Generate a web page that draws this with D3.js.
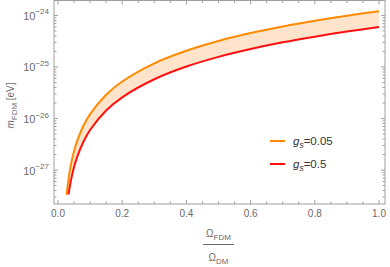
<!DOCTYPE html>
<html>
<head>
<meta charset="utf-8">
<script src="https://cdn.jsdelivr.net/npm/d3@7"></script>
<style>
  html, body { margin: 0; padding: 0; background: #fff; overflow: hidden; }
  svg { display: block; }
  text { font-family: "Liberation Sans", Arial, sans-serif; }
</style>
</head>
<body>
<script>
// FDM mass vs fraction of dark matter, two couplings

// g_s = 0.05 (orange, upper curve)
const fracOrange = [0.027, 0.03, 0.035, 0.04, 0.05, 0.06, 0.08, 0.1, 0.15, 0.2, 0.3, 0.4, 0.5, 0.6, 0.7, 0.8, 0.9, 1.0];
const massOrange = [3.29e-28, 4.93e-28, 8.34e-28, 1.26e-27, 2.34e-27, 3.73e-27, 7.40e-27, 1.22e-26, 2.90e-26, 5.24e-26,
                    1.18e-25, 2.07e-25, 3.20e-25, 4.55e-25, 6.12e-25, 7.91e-25, 9.91e-25, 1.21e-24];

// g_s = 0.5 (red, lower curve)
const fracRed = [0.033, 0.035, 0.04, 0.05, 0.06, 0.08, 0.1, 0.15, 0.2, 0.3, 0.4, 0.5, 0.6, 0.7, 0.8, 0.9, 1.0];
const massRed = [3.37e-28, 4.09e-28, 6.17e-28, 1.15e-27, 1.83e-27, 3.63e-27, 6.00e-27, 1.43e-26, 2.58e-26,
                 5.78e-26, 1.02e-25, 1.57e-25, 2.23e-25, 3.01e-25, 3.88e-25, 4.86e-25, 5.94e-25];

const xTickLabels = ["0.0", "0.2", "0.4", "0.6", "0.8", "1.0"];
const xTicks = [0, 0.2, 0.4, 0.6, 0.8, 1.0];
const yExponents = [-27, -26, -25, -24];
const legendLabels = ["0.05", "0.5"];

const outerWidth = 390, outerHeight = 267;
const margin = {top: 0.5, right: 5, bottom: 63, left: 54};
const innerWidth = outerWidth - margin.left - margin.right;
const innerHeight = outerHeight - margin.top - margin.bottom;

const colOrange = "#ff8a00", colRed = "#ff1010", colFill = "#ffe3cb";
const frameCol = "#a0a0a0", textCol = "#6a6a6a";

const svg = d3.select("body").append("svg")
  .attr("width", outerWidth)
  .attr("height", outerHeight);

const g = svg.append("g")
  .attr("transform", "translate(" + margin.left + "," + margin.top + ")");

// x: 0 sits 4px in from the frame, 1 sits 6px in
const x = d3.scaleLinear()
  .domain([-4 / 321, 1 + 6 / 321])
  .range([0, innerWidth]);

const y = d3.scaleLog()
  .domain([Math.pow(10, -27.658), Math.pow(10, -23.71)])
  .range([innerHeight, 0]);

const orangePts = fracOrange.map((f, i) => [f, massOrange[i]]);
const redPts = fracRed.map((f, i) => [f, massRed[i]]);

const line = d3.line()
  .x(d => x(d[0]))
  .y(d => y(d[1]))
  .curve(d3.curveCatmullRom.alpha(0.5));

// shaded band between the two curves
const bandPath = line(orangePts) + "L" + line(redPts.slice().reverse()).slice(1) + "Z";
g.append("path")
  .attr("d", bandPath)
  .attr("fill", colFill)
  .attr("stroke", "none");

g.append("path")
  .attr("d", line(orangePts))
  .attr("fill", "none")
  .attr("stroke", colOrange)
  .attr("stroke-width", 2);

g.append("path")
  .attr("d", line(redPts))
  .attr("fill", "none")
  .attr("stroke", colRed)
  .attr("stroke-width", 2);

// frame
g.append("rect")
  .attr("x", 0).attr("y", 0)
  .attr("width", innerWidth).attr("height", innerHeight)
  .attr("fill", "none")
  .attr("stroke", frameCol)
  .attr("stroke-width", 1);

// x ticks (bottom + top), major and minor
const xMinor = d3.range(0, 1.0001, 0.05).filter(v => Math.abs(v * 5 - Math.round(v * 5)) > 1e-6);
const tickG = g.append("g").attr("stroke", frameCol).attr("stroke-width", 1);

[[xTicks, 4], [xMinor, 2.5]].forEach(([vals, len]) => {
  tickG.selectAll(null).data(vals).join("line")
    .attr("x1", d => x(d)).attr("x2", d => x(d))
    .attr("y1", innerHeight).attr("y2", innerHeight - len);
  tickG.selectAll(null).data(vals).join("line")
    .attr("x1", d => x(d)).attr("x2", d => x(d))
    .attr("y1", 0).attr("y2", len);
});

// y ticks (left + right), decades and 2..9 minors
const yMajor = yExponents.map(e => Math.pow(10, e));
const yMinor = [];
[-28, -27, -26, -25, -24].forEach(e => {
  for (let k = 2; k <= 9; k++) {
    const v = k * Math.pow(10, e);
    if (v > y.domain()[0] && v < y.domain()[1]) yMinor.push(v);
  }
});

[[yMajor, 4], [yMinor, 2.5]].forEach(([vals, len]) => {
  tickG.selectAll(null).data(vals).join("line")
    .attr("y1", d => y(d)).attr("y2", d => y(d))
    .attr("x1", 0).attr("x2", len);
  tickG.selectAll(null).data(vals).join("line")
    .attr("y1", d => y(d)).attr("y2", d => y(d))
    .attr("x1", innerWidth).attr("x2", innerWidth - len);
});

// x tick labels
g.selectAll(".xlab").data(xTicks).join("text")
  .attr("class", "xlab")
  .attr("x", d => x(d))
  .attr("y", innerHeight + 13)
  .attr("text-anchor", "middle")
  .attr("font-size", 10)
  .attr("fill", textCol)
  .text((d, i) => xTickLabels[i]);

// y tick labels: "10" plus a separate superscript text
yExponents.forEach(e => {
  const yy = y(Math.pow(10, e));
  const sup = g.append("text")
    .attr("x", -5).attr("y", yy - 1)
    .attr("text-anchor", "end")
    .attr("font-size", 8)
    .attr("fill", textCol)
    .text("\u2212" + Math.abs(e));
  const w = sup.node().getComputedTextLength();
  g.append("text")
    .attr("x", -5 - w).attr("y", yy + 4.5)
    .attr("text-anchor", "end")
    .attr("font-size", 11)
    .attr("fill", textCol)
    .text("10");
});

// y axis title, rotated, built from pieces
const yTitle = svg.append("g")
  .attr("transform", "translate(14," + (margin.top + 128) + ") rotate(-90)");
const tM = yTitle.append("text").attr("x", 0).attr("y", 0)
  .attr("font-size", 10).attr("font-style", "italic").attr("fill", textCol).text("m");
const wM = tM.node().getComputedTextLength();
const tF = yTitle.append("text").attr("x", wM).attr("y", 2.5)
  .attr("font-size", 8).attr("fill", textCol).text("FDM");
const wF = tF.node().getComputedTextLength();
yTitle.append("text").attr("x", wM + wF + 2.5).attr("y", 0)
  .attr("font-size", 10).attr("fill", textCol).text("[eV]");

// x axis title: Omega_FDM / Omega_DM
const fx = margin.left + x(0.5);
function omegaLabel(sub, yBase) {
  const grp = svg.append("g");
  const om = grp.append("text").attr("y", yBase)
    .attr("font-size", 10).attr("fill", textCol).text("\u03A9");
  const so = grp.append("text").attr("y", yBase + 2.5)
    .attr("font-size", 8).attr("fill", textCol).text(sub);
  const w1 = om.node().getComputedTextLength();
  const w2 = so.node().getComputedTextLength();
  const x0 = fx - (w1 + w2) / 2;
  om.attr("x", x0);
  so.attr("x", x0 + w1);
}
omegaLabel("FDM", 237);
svg.append("line")
  .attr("x1", fx - 15.5).attr("x2", fx + 15.5)
  .attr("y1", 244.5).attr("y2", 244.5)
  .attr("stroke", textCol).attr("stroke-width", 1);
omegaLabel("DM", 261);

// legend
const legendColors = [colOrange, colRed];
legendColors.forEach((c, i) => {
  const ly = 141 + i * 23;
  svg.append("line")
    .attr("x1", 270).attr("x2", 285)
    .attr("y1", ly).attr("y2", ly)
    .attr("stroke", c)
    .attr("stroke-width", 2);
  const tg = svg.append("text").attr("x", 293).attr("y", ly + 4)
    .attr("font-size", 11.5).attr("font-style", "italic").attr("fill", "#333").text("g");
  const wg = tg.node().getComputedTextLength();
  const ts = svg.append("text").attr("x", 293 + wg).attr("y", ly + 6.5)
    .attr("font-size", 8.5).attr("font-style", "italic").attr("fill", "#333").text("s");
  const ws = ts.node().getComputedTextLength();
  svg.append("text").attr("x", 293 + wg + ws).attr("y", ly + 4)
    .attr("font-size", 11.5).attr("fill", "#333").text("=" + legendLabels[i]);
});
</script>
</body>
</html>
